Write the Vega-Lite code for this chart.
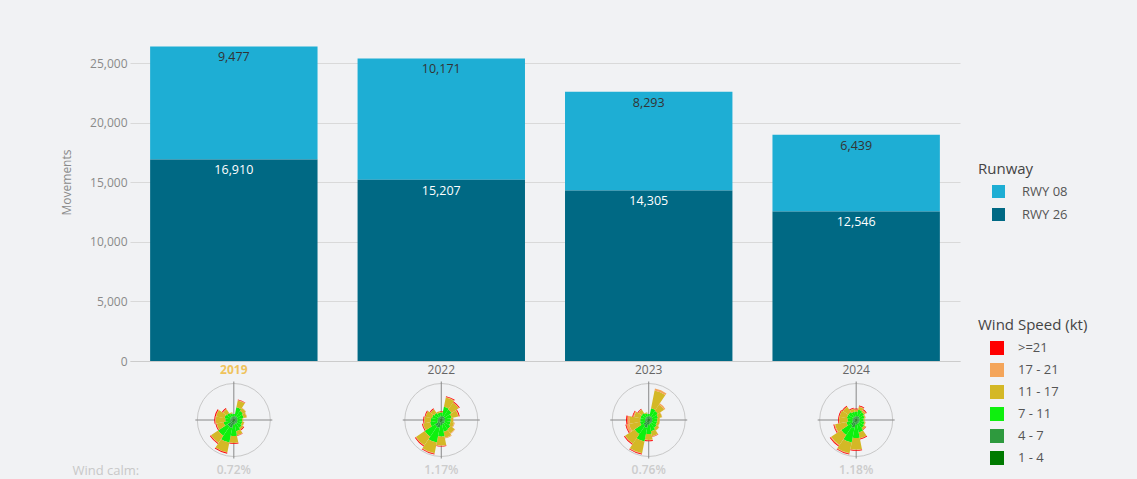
{
  "$schema": "https://vega.github.io/schema/vega-lite/v6.json",
  "width": 830,
  "height": 321,
  "autosize": {"type": "none"},
  "padding": {"left": 130, "top": 40, "right": 177, "bottom": 118},
  "background": "#f1f2f4",
  "config": {"font": "Open Sans", "view": {"stroke": null}},
  "datasets": {
    "runways": [
      {"year": "2019", "runway": "RWY 08", "movements": 9477},
      {"year": "2019", "runway": "RWY 26", "movements": 16910},
      {"year": "2022", "runway": "RWY 08", "movements": 10171},
      {"year": "2022", "runway": "RWY 26", "movements": 15207},
      {"year": "2023", "runway": "RWY 08", "movements": 8293},
      {"year": "2023", "runway": "RWY 26", "movements": 14305},
      {"year": "2024", "runway": "RWY 08", "movements": 6439},
      {"year": "2024", "runway": "RWY 26", "movements": 12546}
    ],
    "calm": [
      {"year": "2019", "calm": "0.72%"},
      {"year": "2022", "calm": "1.17%"},
      {"year": "2023", "calm": "0.76%"},
      {"year": "2024", "calm": "1.18%"}
    ],
    "speeds": [
      {"speed": "1 - 4", "rank": 1},
      {"speed": "4 - 7", "rank": 2},
      {"speed": "7 - 11", "rank": 3},
      {"speed": "11 - 17", "rank": 4},
      {"speed": "17 - 21", "rank": 5},
      {"speed": ">=21", "rank": 6}
    ],
    "wind": [
      {"year": "2019", "dir": 0, "1 - 4": 1.5, "4 - 7": 2, "7 - 11": 2.5, "11 - 17": 0, "17 - 21": 0, ">=21": 0},
      {"year": "2019", "dir": 22.5, "1 - 4": 1.5, "4 - 7": 2.5, "7 - 11": 9, "11 - 17": 7, "17 - 21": 0.5, ">=21": 0.3},
      {"year": "2019", "dir": 45, "1 - 4": 1.5, "4 - 7": 2.5, "7 - 11": 7, "11 - 17": 3.5, "17 - 21": 0.3, ">=21": 0},
      {"year": "2019", "dir": 67.5, "1 - 4": 1.5, "4 - 7": 2, "7 - 11": 6.5, "11 - 17": 3, "17 - 21": 0.5, ">=21": 0},
      {"year": "2019", "dir": 90, "1 - 4": 1.5, "4 - 7": 2, "7 - 11": 5, "11 - 17": 1, "17 - 21": 0, ">=21": 0},
      {"year": "2019", "dir": 112.5, "1 - 4": 1.5, "4 - 7": 2, "7 - 11": 5, "11 - 17": 2, "17 - 21": 0.3, ">=21": 0},
      {"year": "2019", "dir": 135, "1 - 4": 1.5, "4 - 7": 2.5, "7 - 11": 5.5, "11 - 17": 2, "17 - 21": 0.3, ">=21": 0.7},
      {"year": "2019", "dir": 157.5, "1 - 4": 1.5, "4 - 7": 2.5, "7 - 11": 7.5, "11 - 17": 4, "17 - 21": 0.3, ">=21": 0.4},
      {"year": "2019", "dir": 180, "1 - 4": 1.5, "4 - 7": 3, "7 - 11": 11.5, "11 - 17": 7, "17 - 21": 0.3, ">=21": 0.7},
      {"year": "2019", "dir": 202.5, "1 - 4": 2.5, "4 - 7": 5.5, "7 - 11": 15, "11 - 17": 10, "17 - 21": 0.5, ">=21": 0.8},
      {"year": "2019", "dir": 225, "1 - 4": 2.5, "4 - 7": 5, "7 - 11": 11.5, "11 - 17": 8.5, "17 - 21": 0.5, ">=21": 0.8},
      {"year": "2019", "dir": 247.5, "1 - 4": 1.5, "4 - 7": 2.5, "7 - 11": 6.5, "11 - 17": 7, "17 - 21": 0.5, ">=21": 0.8},
      {"year": "2019", "dir": 270, "1 - 4": 1.5, "4 - 7": 2, "7 - 11": 5, "11 - 17": 9.5, "17 - 21": 0.8, ">=21": 0.8},
      {"year": "2019", "dir": 292.5, "1 - 4": 1.5, "4 - 7": 2, "7 - 11": 6, "11 - 17": 8.5, "17 - 21": 0.5, ">=21": 1},
      {"year": "2019", "dir": 315, "1 - 4": 1.5, "4 - 7": 2, "7 - 11": 5, "11 - 17": 4.5, "17 - 21": 0.5, ">=21": 0.8},
      {"year": "2019", "dir": 337.5, "1 - 4": 1.5, "4 - 7": 2, "7 - 11": 3.5, "11 - 17": 1, "17 - 21": 0, ">=21": 0},

      {"year": "2022", "dir": 0, "1 - 4": 1.5, "4 - 7": 2, "7 - 11": 4, "11 - 17": 1, "17 - 21": 0, ">=21": 0.4},
      {"year": "2022", "dir": 22.5, "1 - 4": 1.5, "4 - 7": 2.5, "7 - 11": 9.5, "11 - 17": 9.5, "17 - 21": 0.5, ">=21": 0.8},
      {"year": "2022", "dir": 45, "1 - 4": 1.5, "4 - 7": 2.5, "7 - 11": 8.5, "11 - 17": 8.5, "17 - 21": 0.5, ">=21": 0.8},
      {"year": "2022", "dir": 67.5, "1 - 4": 1.5, "4 - 7": 2.5, "7 - 11": 6.5, "11 - 17": 7, "17 - 21": 0.5, ">=21": 0.8},
      {"year": "2022", "dir": 90, "1 - 4": 1.5, "4 - 7": 2, "7 - 11": 6, "11 - 17": 2.5, "17 - 21": 0.3, ">=21": 0},
      {"year": "2022", "dir": 112.5, "1 - 4": 1.5, "4 - 7": 2, "7 - 11": 6, "11 - 17": 3.5, "17 - 21": 0.8, ">=21": 0},
      {"year": "2022", "dir": 135, "1 - 4": 1.5, "4 - 7": 2.5, "7 - 11": 7, "11 - 17": 5, "17 - 21": 0.8, ">=21": 0},
      {"year": "2022", "dir": 157.5, "1 - 4": 1.5, "4 - 7": 2.5, "7 - 11": 8, "11 - 17": 6, "17 - 21": 0.8, ">=21": 0},
      {"year": "2022", "dir": 180, "1 - 4": 1.5, "4 - 7": 3.5, "7 - 11": 11.5, "11 - 17": 9, "17 - 21": 0.5, ">=21": 0.4},
      {"year": "2022", "dir": 202.5, "1 - 4": 2.5, "4 - 7": 5.5, "7 - 11": 15, "11 - 17": 11, "17 - 21": 0.5, ">=21": 0.8},
      {"year": "2022", "dir": 225, "1 - 4": 2.5, "4 - 7": 5, "7 - 11": 12.5, "11 - 17": 10.5, "17 - 21": 0.5, ">=21": 0.8},
      {"year": "2022", "dir": 247.5, "1 - 4": 1.5, "4 - 7": 2.5, "7 - 11": 7.5, "11 - 17": 7, "17 - 21": 0.5, ">=21": 0.8},
      {"year": "2022", "dir": 270, "1 - 4": 1.5, "4 - 7": 2, "7 - 11": 7, "11 - 17": 6.5, "17 - 21": 0.3, ">=21": 0.8},
      {"year": "2022", "dir": 292.5, "1 - 4": 1.5, "4 - 7": 2, "7 - 11": 6, "11 - 17": 6.5, "17 - 21": 0.3, ">=21": 0.8},
      {"year": "2022", "dir": 315, "1 - 4": 1.5, "4 - 7": 2, "7 - 11": 5, "11 - 17": 4.5, "17 - 21": 0.3, ">=21": 0.8},
      {"year": "2022", "dir": 337.5, "1 - 4": 1.5, "4 - 7": 2, "7 - 11": 4, "11 - 17": 1.5, "17 - 21": 0, ">=21": 0},

      {"year": "2023", "dir": 0, "1 - 4": 1.5, "4 - 7": 2, "7 - 11": 2.5, "11 - 17": 0, "17 - 21": 0, ">=21": 0},
      {"year": "2023", "dir": 22.5, "1 - 4": 1.5, "4 - 7": 2.5, "7 - 11": 8, "11 - 17": 18, "17 - 21": 2, ">=21": 0},
      {"year": "2023", "dir": 45, "1 - 4": 1.5, "4 - 7": 2.5, "7 - 11": 7, "11 - 17": 7.5, "17 - 21": 1.5, ">=21": 0},
      {"year": "2023", "dir": 67.5, "1 - 4": 1.5, "4 - 7": 2, "7 - 11": 6, "11 - 17": 4, "17 - 21": 0.3, ">=21": 0},
      {"year": "2023", "dir": 90, "1 - 4": 1.5, "4 - 7": 2, "7 - 11": 5, "11 - 17": 2.5, "17 - 21": 0.3, ">=21": 0},
      {"year": "2023", "dir": 112.5, "1 - 4": 1.5, "4 - 7": 2, "7 - 11": 5, "11 - 17": 2.5, "17 - 21": 0.3, ">=21": 0},
      {"year": "2023", "dir": 135, "1 - 4": 1.5, "4 - 7": 2, "7 - 11": 6, "11 - 17": 3, "17 - 21": 0.3, ">=21": 0},
      {"year": "2023", "dir": 157.5, "1 - 4": 1.5, "4 - 7": 2.5, "7 - 11": 7.5, "11 - 17": 5, "17 - 21": 0.5, ">=21": 0.4},
      {"year": "2023", "dir": 180, "1 - 4": 1.5, "4 - 7": 3, "7 - 11": 9.5, "11 - 17": 6, "17 - 21": 0.5, ">=21": 0.8},
      {"year": "2023", "dir": 202.5, "1 - 4": 2.5, "4 - 7": 5.5, "7 - 11": 14, "11 - 17": 12, "17 - 21": 0.5, ">=21": 0.8},
      {"year": "2023", "dir": 225, "1 - 4": 2.5, "4 - 7": 4, "7 - 11": 10.5, "11 - 17": 11.5, "17 - 21": 0.5, ">=21": 0.8},
      {"year": "2023", "dir": 247.5, "1 - 4": 1.5, "4 - 7": 2.5, "7 - 11": 5, "11 - 17": 11, "17 - 21": 3, ">=21": 0.8},
      {"year": "2023", "dir": 270, "1 - 4": 1.5, "4 - 7": 2, "7 - 11": 5, "11 - 17": 10.5, "17 - 21": 2.5, ">=21": 1.2},
      {"year": "2023", "dir": 292.5, "1 - 4": 1.5, "4 - 7": 2, "7 - 11": 5, "11 - 17": 6.5, "17 - 21": 1, ">=21": 0.8},
      {"year": "2023", "dir": 315, "1 - 4": 1.5, "4 - 7": 2, "7 - 11": 5, "11 - 17": 4, "17 - 21": 0.3, ">=21": 0.8},
      {"year": "2023", "dir": 337.5, "1 - 4": 1.5, "4 - 7": 2, "7 - 11": 3.5, "11 - 17": 1, "17 - 21": 0, ">=21": 0},

      {"year": "2024", "dir": 0, "1 - 4": 1.5, "4 - 7": 2, "7 - 11": 5, "11 - 17": 2, "17 - 21": 0.3, ">=21": 0.8},
      {"year": "2024", "dir": 22.5, "1 - 4": 1.5, "4 - 7": 2.5, "7 - 11": 6.5, "11 - 17": 3, "17 - 21": 0.5, ">=21": 0.8},
      {"year": "2024", "dir": 45, "1 - 4": 1.5, "4 - 7": 2.5, "7 - 11": 5.5, "11 - 17": 2, "17 - 21": 0.5, ">=21": 0.8},
      {"year": "2024", "dir": 67.5, "1 - 4": 1.5, "4 - 7": 2, "7 - 11": 5, "11 - 17": 1, "17 - 21": 0.3, ">=21": 0},
      {"year": "2024", "dir": 90, "1 - 4": 1.5, "4 - 7": 2, "7 - 11": 4, "11 - 17": 1, "17 - 21": 0, ">=21": 0},
      {"year": "2024", "dir": 112.5, "1 - 4": 1.5, "4 - 7": 2, "7 - 11": 5, "11 - 17": 1, "17 - 21": 0.3, ">=21": 0},
      {"year": "2024", "dir": 135, "1 - 4": 1.5, "4 - 7": 2, "7 - 11": 6, "11 - 17": 2, "17 - 21": 0.3, ">=21": 0.4},
      {"year": "2024", "dir": 157.5, "1 - 4": 1.5, "4 - 7": 2.5, "7 - 11": 8.5, "11 - 17": 6, "17 - 21": 0.5, ">=21": 0.8},
      {"year": "2024", "dir": 180, "1 - 4": 1.5, "4 - 7": 3, "7 - 11": 13.5, "11 - 17": 11.5, "17 - 21": 0.5, ">=21": 0.8},
      {"year": "2024", "dir": 202.5, "1 - 4": 2.5, "4 - 7": 5.5, "7 - 11": 15, "11 - 17": 11, "17 - 21": 0.5, ">=21": 0.8},
      {"year": "2024", "dir": 225, "1 - 4": 2.5, "4 - 7": 4, "7 - 11": 11.5, "11 - 17": 12, "17 - 21": 1, ">=21": 0.8},
      {"year": "2024", "dir": 247.5, "1 - 4": 1.5, "4 - 7": 2.5, "7 - 11": 6, "11 - 17": 11.5, "17 - 21": 1, ">=21": 0.8},
      {"year": "2024", "dir": 270, "1 - 4": 1.5, "4 - 7": 2, "7 - 11": 5, "11 - 17": 8.5, "17 - 21": 0.3, ">=21": 0.8},
      {"year": "2024", "dir": 292.5, "1 - 4": 1.5, "4 - 7": 2, "7 - 11": 6, "11 - 17": 7.5, "17 - 21": 0.3, ">=21": 0.8},
      {"year": "2024", "dir": 315, "1 - 4": 1.5, "4 - 7": 2, "7 - 11": 6, "11 - 17": 6.5, "17 - 21": 0.3, ">=21": 0.8},
      {"year": "2024", "dir": 337.5, "1 - 4": 1.5, "4 - 7": 2, "7 - 11": 5, "11 - 17": 3, "17 - 21": 0.3, ">=21": 0.8}
    ]
  },
  "encoding": {
    "x": {
      "field": "year",
      "type": "ordinal",
      "scale": {"domain": ["2019", "2022", "2023", "2024"], "paddingInner": 0.193, "paddingOuter": 0.097},
      "axis": {
        "title": "Wind calm:",
        "titleX": -58,
        "titleY": 109,
        "titleAlign": "left",
        "titleBaseline": "middle",
        "titleColor": "#c8c8c8",
        "titleFontWeight": "normal",
        "titleFontSize": 13,
        "labelAngle": 0,
        "ticks": false,
        "domain": true,
        "domainColor": "#cccccc",
        "labelPadding": 3,
        "labelFontSize": 12,
        "labelColor": {"condition": {"test": "datum.value === '2019'", "value": "#efc35c"}, "value": "#666666"},
        "labelFontWeight": {"condition": {"test": "datum.value === '2019'", "value": "bold"}, "value": "normal"}
      }
    }
  },
  "layer": [
    {
      "data": {"name": "runways"},
      "transform": [
        {"stack": "movements", "groupby": ["year"], "sort": [{"field": "runway", "order": "descending"}], "as": ["m0", "m1"]}
      ],
      "mark": {"type": "bar"},
      "encoding": {
        "y": {
          "field": "m1",
          "type": "quantitative",
          "scale": {"domain": [0, 26930], "nice": false, "zero": true},
          "axis": {
            "title": "Movements",
            "titleColor": "#8a8a8a",
            "titleFontWeight": "normal",
            "titleFontSize": 12,
            "titleX": -64,
            "titleY": 142,
            "titleAngle": 270,
            "titleAlign": "center",
            "titleBaseline": "middle",
            "values": [0, 5000, 10000, 15000, 20000, 25000],
            "labelExpr": "format(datum.value, ',')",
            "labelColor": "#8a8a8a",
            "labelFontSize": 12,
            "labelPadding": 3,
            "ticks": false,
            "domain": false,
            "grid": true,
            "gridColor": "#d9d9d9",
            "zindex": 0
          }
        },
        "y2": {"field": "m0"},
        "color": {
          "field": "runway",
          "type": "nominal",
          "scale": {"domain": ["RWY 08", "RWY 26"], "range": ["#1eaed4", "#006984"]},
          "legend": {
            "title": "Runway",
            "orient": "none",
            "legendX": 848,
            "legendY": 122,
            "titleFontSize": 15,
            "titleFontWeight": "normal",
            "titleColor": "#444444",
            "labelFontSize": 13,
            "labelColor": "#555555",
            "symbolType": "square",
            "symbolSize": 169,
            "symbolStrokeWidth": 0,
            "symbolOffset": 14,
            "labelOffset": 17,
            "rowPadding": 9,
            "titlePadding": 8
          }
        }
      }
    },
    {
      "data": {"name": "runways"},
      "transform": [
        {"stack": "movements", "groupby": ["year"], "sort": [{"field": "runway", "order": "descending"}], "as": ["m0", "m1"]}
      ],
      "mark": {"type": "text", "baseline": "top", "dy": 5, "fontSize": 12.5},
      "encoding": {
        "y": {"field": "m1", "type": "quantitative"},
        "text": {"field": "movements", "type": "quantitative", "format": ","},
        "color": {"condition": {"test": "datum.runway === 'RWY 08'", "value": "#333333"}, "value": "#ffffff"}
      }
    },
    {
      "data": {"name": "calm"},
      "mark": {"type": "point", "shape": "circle", "size": 5329, "filled": false, "stroke": "#c8c8c8", "strokeWidth": 1, "opacity": 1},
      "encoding": {
        "y": {"datum": -4950, "type": "quantitative"}
      }
    },
    {
      "data": {"name": "calm"},
      "mark": {"type": "point", "shape": "M-1,0H1M0,-1V1", "size": 5929, "filled": false, "stroke": "#888888", "strokeWidth": 1, "opacity": 1},
      "encoding": {
        "y": {"datum": -4950, "type": "quantitative"}
      }
    },
    {
      "data": {"name": "wind"},
      "transform": [
        {"fold": ["1 - 4", "4 - 7", "7 - 11", "11 - 17", "17 - 21", ">=21"], "as": ["speed", "v"]},
        {"lookup": "speed", "from": {"data": {"name": "speeds"}, "key": "speed", "fields": ["rank"]}},
        {"stack": "v", "groupby": ["year", "dir"], "sort": [{"field": "rank", "order": "ascending"}], "as": ["r0", "r1"]},
        {"bin": {"step": 22.5, "extent": [-11.25, 348.75], "nice": false}, "field": "dir", "as": ["d0", "d1"]}
      ],
      "mark": {"type": "arc", "stroke": null},
      "encoding": {
        "y": {"datum": -4950, "type": "quantitative"},
        "theta": {"field": "d0", "type": "quantitative", "scale": {"domain": [0, 360], "range": [0, 6.283185307], "zero": false, "nice": false}},
        "theta2": {"field": "d1"},
        "radius": {"field": "r1", "type": "quantitative", "scale": {"type": "linear", "domain": [0, 36], "range": [0, 36], "zero": true, "nice": false}},
        "radius2": {"field": "r0"},
        "color": {
          "field": "speed",
          "type": "nominal",
          "scale": {"domain": [">=21", "17 - 21", "11 - 17", "7 - 11", "4 - 7", "1 - 4"], "range": ["#ff0000", "#f4a55a", "#d4b826", "#0ef00e", "#2e9a3e", "#007a00"]},
          "legend": {
            "title": "Wind Speed (kt)",
            "orient": "none",
            "legendX": 848,
            "legendY": 278,
            "titleFontSize": 15,
            "titleFontWeight": "normal",
            "titleColor": "#444444",
            "labelFontSize": 13,
            "labelColor": "#555555",
            "symbolType": "square",
            "symbolSize": 196,
            "symbolStrokeWidth": 0,
            "symbolOffset": 12,
            "labelOffset": 14,
            "rowPadding": 8,
            "titlePadding": 8
          }
        }
      }
    },
    {
      "data": {"name": "calm"},
      "mark": {"type": "text", "fontSize": 12, "fontWeight": 600, "color": "#cccccc", "baseline": "middle"},
      "encoding": {
        "y": {"datum": -9150, "type": "quantitative"},
        "text": {"field": "calm", "type": "nominal"}
      }
    }
  ],
  "resolve": {"scale": {"color": "independent"}}
}
